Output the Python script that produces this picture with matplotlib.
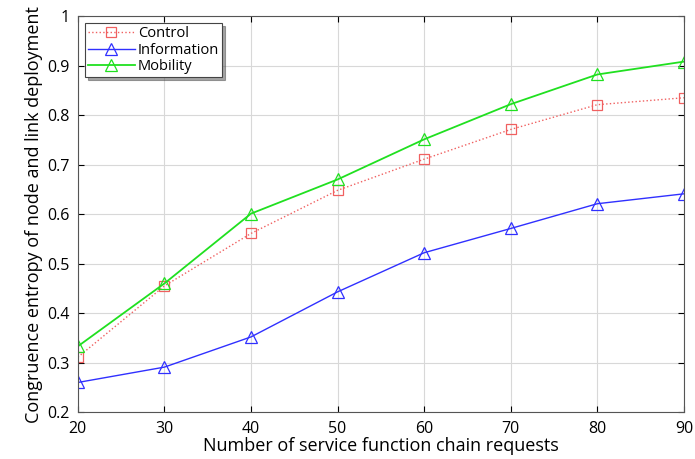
import matplotlib
matplotlib.use('Agg')
import matplotlib.pyplot as plt

#data
requests = [20, 30, 40, 50, 60, 70, 80, 90]
control = [0.311, 0.455, 0.561, 0.648, 0.711, 0.771, 0.821, 0.835]
information = [0.260, 0.291, 0.352, 0.443, 0.522, 0.571, 0.621, 0.641]
mobility = [0.333, 0.460, 0.601, 0.670, 0.751, 0.822, 0.882, 0.908]

plt.rcParams['font.family'] = ['Open Sans', 'DejaVu Sans']

fig = plt.figure(figsize=(6.95, 4.59), dpi=100)
ax = fig.add_axes([0.112, 0.102, 0.872, 0.863])

ax.plot(requests, control, color='#f06060', linestyle=':', linewidth=1.0,
        marker='s', markersize=7, markerfacecolor='none', markeredgecolor='#f06060',
        markeredgewidth=0.9, label='Control')
ax.plot(requests, information, color='#3030ff', linewidth=1.0,
        marker='^', markersize=9, markerfacecolor='none', markeredgewidth=0.9,
        label='Information')
ax.plot(requests, mobility, color='#20e020', linewidth=1.3,
        marker='^', markersize=9, markerfacecolor='none', markeredgewidth=0.9,
        label='Mobility')

ax.set_xlim(20, 90)
ax.set_ylim(0.2, 1.0)
ax.set_xticks(requests)
ax.set_yticks([0.2, 0.3, 0.4, 0.5, 0.6, 0.7, 0.8, 0.9, 1.0])
ax.set_yticklabels(['0.2', '0.3', '0.4', '0.5', '0.6', '0.7', '0.8', '0.9', '1'])
ax.tick_params(direction='in', labelsize=11.5, length=4, top=True, right=True, pad=6)
ax.grid(True, color='#d8d8d8', linewidth=0.8)
for s in ax.spines.values():
    s.set_color('#555555')
    s.set_linewidth(0.8)

ax.set_xlabel('Number of service function chain requests', fontsize=13, labelpad=0)
ax.set_ylabel('Congruence entropy of node and link deployment', fontsize=13, labelpad=3)

leg = ax.legend(loc='upper left', fontsize=10.5, fancybox=False, shadow=True,
                framealpha=1, edgecolor='#444444', handlelength=3.2,
                borderpad=0.2, labelspacing=0.1, handletextpad=0.2,
                borderaxespad=0.5)
leg.get_frame().set_linewidth(0.8)

fig.savefig('out.png', dpi=100)
